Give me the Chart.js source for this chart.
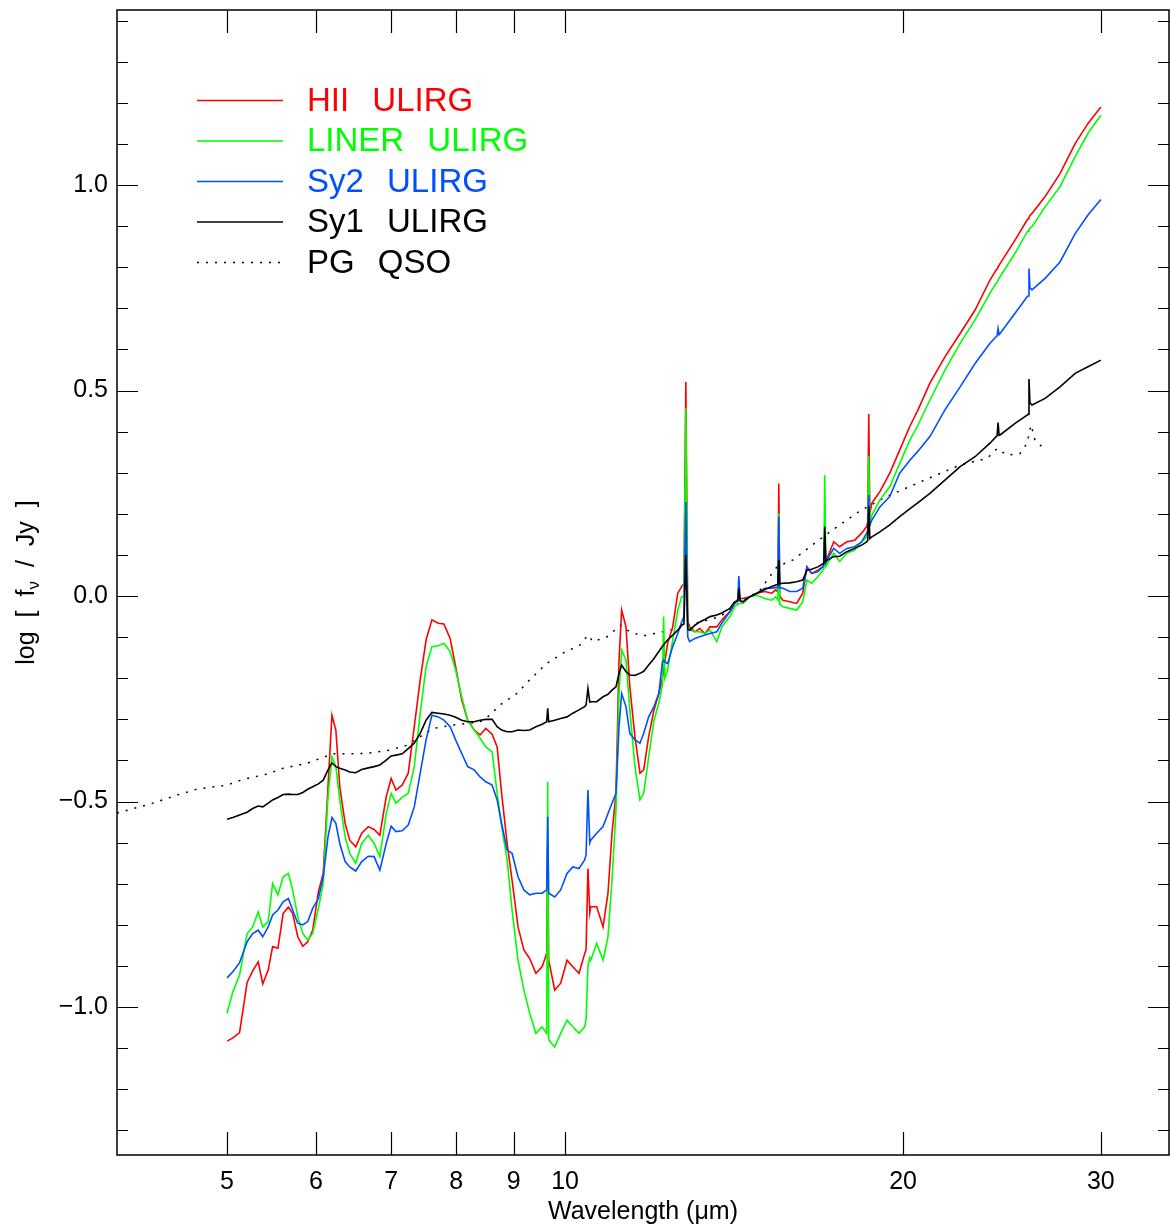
<!DOCTYPE html>
<html>
<head>
<meta charset="utf-8">
<title>ULIRG average spectra</title>
<script src="https://cdn.jsdelivr.net/npm/chart.js@4.4.1/dist/chart.umd.min.js"></script>
<style>
  html, body { margin: 0; padding: 0; background: #fff; }
</style>
</head>
<body>
<canvas id="spectraChart" width="1170" height="1228"></canvas>
<script>
// wavelength grid (micron) shared by the four ULIRG templates
const wavelength = [
  5.00, 5.06, 5.13, 5.21, 5.27, 5.33, 5.38, 5.44, 5.49, 5.55,
  5.61, 5.67, 5.72, 5.78, 5.84, 5.90, 5.96, 6.03, 6.09, 6.15,
  6.20, 6.25, 6.30, 6.37, 6.43, 6.51, 6.59, 6.68, 6.76, 6.84,
  6.93, 7.00, 7.07, 7.16, 7.25, 7.34, 7.43, 7.52, 7.61, 7.71,
  7.80, 7.90, 7.99, 8.09, 8.19, 8.30, 8.40, 8.50, 8.61, 8.70,
  8.78, 8.88, 8.97, 9.08, 9.19, 9.30, 9.42, 9.54, 9.63, 9.65,
  9.67, 9.79, 9.91, 10.04, 10.16, 10.29, 10.41, 10.44, 10.48, 10.52,
  10.54, 10.67, 10.81, 10.92, 11.01, 11.10, 11.17, 11.23, 11.33, 11.42,
  11.54, 11.66, 11.75, 11.87, 12.00, 12.12, 12.21, 12.24, 12.27, 12.34,
  12.47, 12.60, 12.70, 12.76, 12.81, 12.86, 12.91, 13.05, 13.18, 13.32,
  13.46, 13.65, 13.79, 14.02, 14.16, 14.25, 14.28, 14.32, 14.40, 14.60,
  14.82, 15.06, 15.28, 15.40, 15.47, 15.50, 15.53, 15.63, 15.85, 16.08,
  16.28, 16.42, 16.58, 16.79, 16.96, 17.00, 17.03, 17.07, 17.14, 17.35,
  17.56, 17.82, 18.11, 18.37, 18.56, 18.60, 18.64, 18.68, 18.76, 19.07,
  19.46, 19.86, 20.27, 20.61, 21.13, 21.79, 22.48, 23.18, 23.90, 24.20,
  24.25, 24.30, 24.35, 24.40, 25.16, 25.79, 25.84, 25.89, 25.94, 26.05,
  26.76, 27.59, 28.46, 29.22, 30.00
];

// log f_nu (Jy)
const hiiUlirg = [
  -1.083, -1.075, -1.062, -0.940, -0.912, -0.890, -0.944, -0.910, -0.853, -0.857,
  -0.772, -0.757, -0.772, -0.829, -0.852, -0.841, -0.813, -0.719, -0.675, -0.464,
  -0.290, -0.326, -0.464, -0.553, -0.594, -0.610, -0.577, -0.561, -0.568, -0.582,
  -0.488, -0.444, -0.472, -0.460, -0.431, -0.318, -0.204, -0.107, -0.058, -0.066,
  -0.068, -0.103, -0.172, -0.253, -0.302, -0.326, -0.338, -0.322, -0.336, -0.367,
  -0.480, -0.602, -0.691, -0.805, -0.861, -0.882, -0.918, -0.902, -0.870, -0.600,
  -0.886, -0.959, -0.942, -0.886, -0.902, -0.918, -0.870, -0.860, -0.663, -0.770,
  -0.756, -0.756, -0.805, -0.723, -0.577, -0.480, -0.156, -0.034, -0.075, -0.221,
  -0.342, -0.431, -0.423, -0.342, -0.277, -0.237, -0.200, -0.180, -0.160, -0.115,
  -0.075, 0.007, 0.023, 0.030, 0.521, -0.060, -0.075, -0.087, -0.079, -0.091,
  -0.075, -0.075, -0.058, -0.038, -0.018, -0.008, -0.002, -0.006, -0.006, -0.002,
  0.007, 0.011, 0.007, 0.015, 0.010, 0.274, 0.000, -0.010, -0.014, -0.018,
  0.007, 0.071, 0.055, 0.063, 0.071, 0.075, 0.100, 0.085, 0.096, 0.132,
  0.120, 0.132, 0.136, 0.153, 0.169, 0.180, 0.443, 0.200, 0.226, 0.254,
  0.299, 0.355, 0.412, 0.452, 0.518, 0.582, 0.639, 0.696, 0.769, 0.793,
  0.795, 0.801, 0.805, 0.809, 0.866, 0.915, 0.918, 0.922, 0.926, 0.931,
  0.972, 1.028, 1.101, 1.150, 1.190
];

const linerUlirg = [
  -1.015, -0.963, -0.922, -0.821, -0.805, -0.768, -0.805, -0.792, -0.699, -0.727,
  -0.683, -0.675, -0.715, -0.780, -0.821, -0.837, -0.821, -0.760, -0.699, -0.488,
  -0.391, -0.415, -0.496, -0.586, -0.626, -0.650, -0.602, -0.582, -0.602, -0.634,
  -0.529, -0.480, -0.504, -0.490, -0.480, -0.415, -0.285, -0.172, -0.123, -0.121,
  -0.115, -0.135, -0.180, -0.245, -0.302, -0.326, -0.346, -0.367, -0.379, -0.480,
  -0.561, -0.642, -0.764, -0.886, -0.959, -1.015, -1.064, -1.048, -1.064, -0.452,
  -1.080, -1.097, -1.064, -1.032, -1.048, -1.064, -1.048, -1.030, -0.900, -0.880,
  -0.886, -0.845, -0.886, -0.829, -0.691, -0.521, -0.237, -0.131, -0.156, -0.277,
  -0.415, -0.496, -0.480, -0.391, -0.302, -0.261, -0.215, -0.050, -0.200, -0.180,
  -0.107, -0.034, -0.002, 0.000, 0.457, -0.070, -0.083, -0.087, -0.087, -0.091,
  -0.083, -0.111, -0.075, -0.050, -0.026, -0.020, -0.018, -0.018, -0.018, -0.002,
  0.002, -0.006, -0.010, -0.002, -0.010, 0.201, -0.020, -0.026, -0.030, -0.034,
  -0.014, 0.039, 0.031, 0.047, 0.063, 0.066, 0.294, 0.072, 0.080, 0.104,
  0.084, 0.104, 0.112, 0.132, 0.144, 0.155, 0.341, 0.175, 0.197, 0.234,
  0.266, 0.323, 0.378, 0.415, 0.477, 0.550, 0.615, 0.672, 0.737, 0.761,
  0.763, 0.769, 0.773, 0.777, 0.834, 0.886, 0.888, 0.892, 0.895, 0.899,
  0.947, 0.996, 1.069, 1.126, 1.170
];

const sy2Ulirg = [
  -0.929, -0.914, -0.892, -0.841, -0.821, -0.813, -0.829, -0.805, -0.776, -0.764,
  -0.744, -0.736, -0.764, -0.796, -0.800, -0.792, -0.760, -0.736, -0.683, -0.586,
  -0.539, -0.553, -0.602, -0.646, -0.659, -0.669, -0.646, -0.633, -0.634, -0.667,
  -0.602, -0.560, -0.573, -0.571, -0.557, -0.513, -0.431, -0.350, -0.290, -0.294,
  -0.302, -0.318, -0.350, -0.383, -0.415, -0.423, -0.440, -0.452, -0.460, -0.496,
  -0.553, -0.618, -0.626, -0.683, -0.715, -0.727, -0.723, -0.723, -0.715, -0.537,
  -0.723, -0.732, -0.715, -0.675, -0.659, -0.663, -0.642, -0.630, -0.472, -0.600,
  -0.594, -0.577, -0.561, -0.529, -0.504, -0.480, -0.318, -0.237, -0.269, -0.334,
  -0.350, -0.358, -0.334, -0.294, -0.269, -0.237, -0.160, -0.156, -0.160, -0.164,
  -0.123, -0.091, -0.063, -0.050, 0.229, -0.100, -0.111, -0.103, -0.099, -0.095,
  -0.091, -0.087, -0.066, -0.038, -0.018, -0.012, 0.049, -0.012, -0.014, -0.002,
  0.007, 0.019, 0.019, 0.021, 0.020, 0.193, 0.020, 0.019, 0.011, 0.011,
  0.019, 0.071, 0.055, 0.059, 0.071, 0.075, 0.150, 0.082, 0.092, 0.116,
  0.104, 0.116, 0.120, 0.132, 0.153, 0.160, 0.246, 0.172, 0.185, 0.217,
  0.242, 0.299, 0.330, 0.352, 0.388, 0.453, 0.509, 0.566, 0.615, 0.631,
  0.633, 0.651, 0.636, 0.639, 0.688, 0.728, 0.730, 0.797, 0.750, 0.745,
  0.773, 0.813, 0.882, 0.927, 0.965
];

const sy1Ulirg = [
  -0.543, -0.539, -0.533, -0.526, -0.517, -0.511, -0.513, -0.504, -0.496, -0.490,
  -0.483, -0.482, -0.483, -0.483, -0.478, -0.470, -0.464, -0.457, -0.448, -0.423,
  -0.406, -0.415, -0.419, -0.423, -0.428, -0.430, -0.422, -0.418, -0.415, -0.411,
  -0.399, -0.389, -0.387, -0.384, -0.371, -0.358, -0.334, -0.302, -0.283, -0.285,
  -0.287, -0.290, -0.295, -0.302, -0.306, -0.306, -0.302, -0.300, -0.300, -0.318,
  -0.326, -0.330, -0.330, -0.326, -0.327, -0.326, -0.318, -0.312, -0.306, -0.273,
  -0.306, -0.302, -0.298, -0.294, -0.285, -0.277, -0.269, -0.265, -0.225, -0.258,
  -0.257, -0.257, -0.245, -0.239, -0.229, -0.221, -0.188, -0.168, -0.184, -0.192,
  -0.193, -0.188, -0.183, -0.168, -0.152, -0.135, -0.122, -0.119, -0.115, -0.107,
  -0.095, -0.083, -0.071, -0.068, 0.100, -0.080, -0.083, -0.071, -0.063, -0.057,
  -0.050, -0.046, -0.041, -0.030, -0.014, -0.012, 0.019, -0.012, -0.014, -0.002,
  0.007, 0.016, 0.023, 0.027, 0.028, 0.088, 0.030, 0.031, 0.032, 0.035,
  0.039, 0.063, 0.065, 0.071, 0.078, 0.080, 0.169, 0.084, 0.088, 0.096,
  0.097, 0.108, 0.116, 0.124, 0.132, 0.135, 0.217, 0.140, 0.144, 0.156,
  0.173, 0.193, 0.212, 0.227, 0.250, 0.282, 0.315, 0.339, 0.372, 0.388,
  0.390, 0.422, 0.391, 0.392, 0.420, 0.440, 0.442, 0.528, 0.470, 0.465,
  0.481, 0.509, 0.542, 0.558, 0.574
];

// PG QSO template has its own sampling
const qsoWavelength = [
  3.99, 4.27, 4.54, 4.70, 5.00, 5.17, 5.43, 5.61, 5.89, 6.21,
  6.66, 6.98, 7.23, 7.63, 7.95, 8.40, 8.57, 8.75, 9.06, 9.30,
  9.63, 9.96, 10.31, 10.48, 10.59, 10.90, 11.20, 11.42, 11.73, 12.22,
  12.73, 13.74, 14.32, 14.92, 15.44, 15.96, 16.52, 17.31, 18.30, 19.34,
  21.01, 22.48, 23.76, 24.25, 24.75, 25.42, 25.79, 26.00, 26.21, 26.59
];
const pgQso = [
  -0.528, -0.506, -0.482, -0.470, -0.460, -0.446, -0.433, -0.419, -0.407, -0.384,
  -0.383, -0.375, -0.363, -0.322, -0.314, -0.306, -0.290, -0.265, -0.237, -0.204,
  -0.164, -0.139, -0.119, -0.095, -0.111, -0.099, -0.071, -0.087, -0.097, -0.087,
  -0.075, -0.050, -0.015, 0.015, 0.071, 0.088, 0.120, 0.161, 0.207, 0.242,
  0.285, 0.319, 0.335, 0.359, 0.343, 0.347, 0.372, 0.416, 0.380, 0.363
];

const xTicks = [5, 6, 7, 8, 9, 10, 20, 30];
const yTicks = [-1.0, -0.5, 0.0, 0.5, 1.0];

const FONT = '"Liberation Sans", Arial, sans-serif';
Chart.defaults.font.family = FONT;
Chart.defaults.color = '#000';

function toPoints(xs, ys) {
  return xs.map((x, i) => ({ x: x, y: ys[i] }));
}

// closed box with inward ticks on all four sides
const frameTicks = {
  id: 'frameTicks',
  afterDatasetsDraw(chart) {
    const { ctx, chartArea: a, scales: { x, y } } = chart;
    ctx.save();
    ctx.strokeStyle = '#000';
    ctx.lineWidth = 1.5;
    ctx.strokeRect(a.left, a.top, a.right - a.left, a.bottom - a.top);
    ctx.lineWidth = 1.2;
    ctx.beginPath();
    xTicks.forEach(v => {
      const px = Math.round(x.getPixelForValue(v)) + 0.5;
      ctx.moveTo(px, a.bottom); ctx.lineTo(px, a.bottom - 23);
      ctx.moveTo(px, a.top); ctx.lineTo(px, a.top + 23);
    });
    for (let k = Math.ceil(y.min * 10); k <= Math.floor(y.max * 10); k++) {
      const py = Math.round(y.getPixelForValue(k / 10)) + 0.5;
      const len = k % 5 === 0 ? 21 : 11;
      ctx.moveTo(a.left, py); ctx.lineTo(a.left + len, py);
      ctx.moveTo(a.right, py); ctx.lineTo(a.right - len, py);
    }
    ctx.stroke();
    ctx.restore();
  }
};

// legend drawn inside the plot, text in the line colour
const insetLegend = {
  id: 'insetLegend',
  afterDraw(chart) {
    const ctx = chart.ctx;
    ctx.save();
    ctx.font = '33px ' + FONT;
    ctx.wordSpacing = '14px';
    ctx.textBaseline = 'middle';
    chart.data.datasets.forEach((ds, i) => {
      const yy = 100.5 + i * 40.5;
      ctx.strokeStyle = ds.borderColor;
      ctx.lineWidth = 1.5;
      ctx.setLineDash(ds.borderDash || []);
      ctx.beginPath();
      ctx.moveTo(197, yy);
      ctx.lineTo(283, yy);
      ctx.stroke();
      ctx.setLineDash([]);
      ctx.fillStyle = ds.borderColor;
      ctx.fillText(ds.label, 307, yy + 1);
    });
    ctx.restore();
  }
};

// y title needs a subscript nu
const yTitle = {
  id: 'yTitle',
  afterDraw(chart) {
    const { ctx, chartArea: a } = chart;
    const parts = [
      { t: 'log [ f', font: '25px ' + FONT, dy: 0 },
      { t: '\u03bd', font: '17px ' + FONT, dy: 7 },
      { t: ' / Jy ]', font: '25px ' + FONT, dy: 0 }
    ];
    ctx.save();
    ctx.wordSpacing = '7px';
    let total = 0;
    parts.forEach(p => { ctx.font = p.font; p.w = ctx.measureText(p.t).width; total += p.w; });
    ctx.translate(27, (a.top + a.bottom) / 2);
    ctx.rotate(-Math.PI / 2);
    ctx.fillStyle = '#000';
    ctx.textBaseline = 'middle';
    let cx = -total / 2;
    parts.forEach(p => { ctx.font = p.font; ctx.fillText(p.t, cx, p.dy); cx += p.w; });
    ctx.restore();
  }
};

const lineStyle = { pointRadius: 0, borderWidth: 1.6, tension: 0, fill: false };

new Chart(document.getElementById('spectraChart'), {
  type: 'line',
  data: {
    datasets: [
      Object.assign({ label: 'HII ULIRG', data: toPoints(wavelength, hiiUlirg), borderColor: '#ff0000', order: 4 }, lineStyle),
      Object.assign({ label: 'LINER ULIRG', data: toPoints(wavelength, linerUlirg), borderColor: '#00ff00', order: 3 }, lineStyle),
      Object.assign({ label: 'Sy2 ULIRG', data: toPoints(wavelength, sy2Ulirg), borderColor: '#0050ff', order: 2 }, lineStyle),
      Object.assign({ label: 'Sy1 ULIRG', data: toPoints(wavelength, sy1Ulirg), borderColor: '#000000', order: 1 }, lineStyle),
      Object.assign({ label: 'PG QSO', data: toPoints(qsoWavelength, pgQso), borderColor: '#000000', borderDash: [2, 7], order: 5 }, lineStyle, { borderWidth: 1.5 })
    ]
  },
  options: {
    responsive: false,
    devicePixelRatio: 1,
    animation: false,
    layout: { padding: { top: 10, right: 1, left: 0, bottom: 0 } },
    scales: {
      x: {
        type: 'logarithmic',
        min: 3.99,
        max: 34.5,
        afterBuildTicks: s => { s.ticks = xTicks.map(v => ({ value: v })); },
        afterFit: s => { s.height = 73; s.paddingLeft = 0; s.paddingRight = 0; },
        grid: { display: false, drawTicks: false },
        border: { display: false },
        ticks: {
          autoSkip: false, maxRotation: 0, padding: 12,
          font: { size: 25 },
          callback: v => String(v)
        },
        title: {
          display: true,
          text: 'Wavelength (\u03bcm)',
          font: { size: 25 },
          padding: { top: 0, bottom: 1 }
        }
      },
      y: {
        type: 'linear',
        min: -1.36,
        max: 1.426,
        afterBuildTicks: s => { s.ticks = yTicks.map(v => ({ value: v })); },
        afterFit: s => { s.width = 117; s.paddingTop = 0; s.paddingBottom = 0; },
        grid: { display: false, drawTicks: false },
        border: { display: false },
        ticks: {
          padding: 9,
          font: { size: 25 },
          callback: v => (v < 0 ? '\u2212' : '') + Math.abs(v).toFixed(1)
        }
      }
    },
    plugins: {
      legend: { display: false },
      tooltip: { enabled: false }
    }
  },
  plugins: [frameTicks, insetLegend, yTitle]
});
</script>
</body>
</html>
